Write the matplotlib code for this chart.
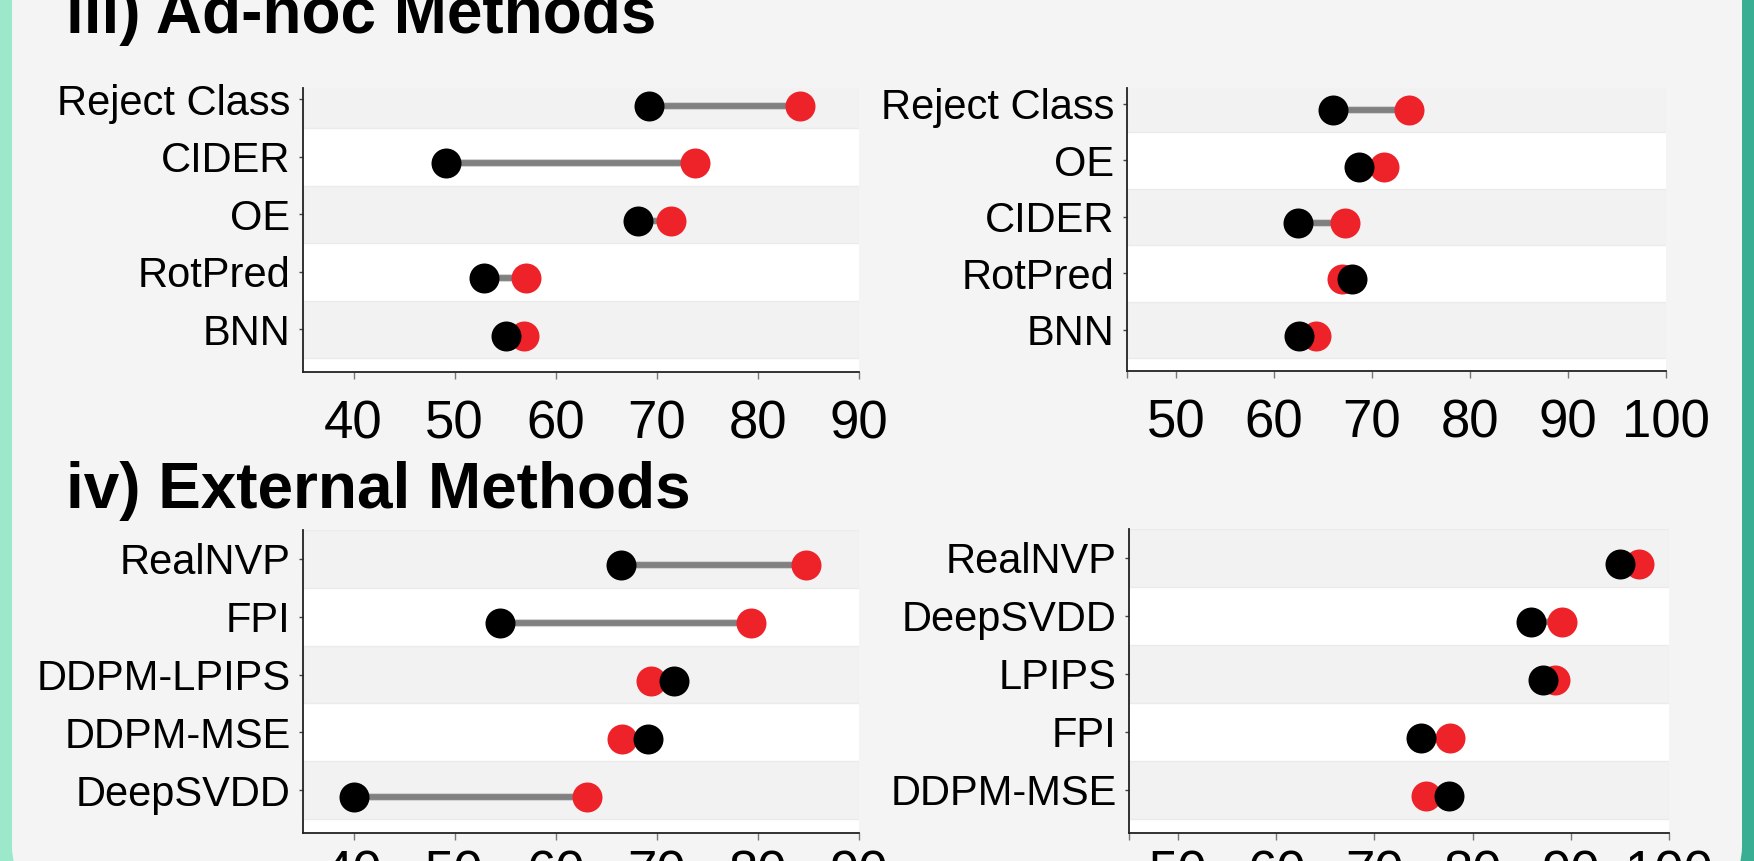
import matplotlib.pyplot as plt
from matplotlib.patches import Rectangle, FancyBboxPatch

plt.rcParams['font.family'] = ['Liberation Sans', 'DejaVu Sans']

# iii) ad-hoc methods, left panel (top to bottom)
adhoc_left_names = ['Reject Class', 'CIDER', 'OE', 'RotPred', 'BNN']
adhoc_left_red = [84.2, 73.8, 71.4, 57.1, 56.9]
adhoc_left_black = [69.2, 49.1, 68.1, 52.9, 55.1]

# iii) ad-hoc methods, right panel
adhoc_right_names = ['Reject Class', 'OE', 'CIDER', 'RotPred', 'BNN']
adhoc_right_red = [73.8, 71.2, 67.2, 66.9, 64.3]
adhoc_right_black = [66.0, 68.7, 62.4, 68.0, 62.6]

# iv) external methods, left panel
ext_left_names = ['RealNVP', 'FPI', 'DDPM-LPIPS', 'DDPM-MSE', 'DeepSVDD']
ext_left_red = [84.8, 79.3, 69.4, 66.6, 63.1]
ext_left_black = [66.5, 54.5, 71.7, 69.1, 40.0]

# iv) external methods, right panel
ext_right_names = ['RealNVP', 'DeepSVDD', 'LPIPS', 'FPI', 'DDPM-MSE']
ext_right_red = [96.9, 89.1, 88.4, 77.7, 75.2]
ext_right_black = [95.0, 85.9, 87.2, 74.7, 77.6]

left_ticks = [40, 50, 60, 70, 80, 90]
right_ticks = [45, 50, 60, 70, 80, 90, 100]
right_ticklabels = ['', '50', '60', '70', '80', '90', '100']

RED = '#ee2229'
BAND = '#f2f2f2'
BG = '#f4f4f4'

W, H = 1754, 861
fig = plt.figure(figsize=(W / 100, H / 100), dpi=100)
fig.patch.set_facecolor(BG)

# coloured frame with rounded grey card on top
fig.patches.append(Rectangle((0, 0), 0.5, 1, transform=fig.transFigure,
                             color='#9ce8cb', zorder=-3))
fig.patches.append(Rectangle((0.5, 0), 0.5, 1, transform=fig.transFigure,
                             color='#3aae93', zorder=-3))
fig.patches.append(FancyBboxPatch((12, -30), 1742 - 12, H + 80,
                                  boxstyle='round,pad=0,rounding_size=45',
                                  transform=None, facecolor=BG,
                                  edgecolor='none', zorder=-2))


def px_axes(x0, x1, y0, y1):
    # pixel box measured from top-left of the figure
    return fig.add_axes([x0 / W, 1 - y1 / H, (x1 - x0) / W, (y1 - y0) / H])


def dumbbell(ax, names, red, black, xlim, ylim, ticks, ticklabels, xpad):
    n = len(names)
    ys = list(range(n - 1, -1, -1))
    ax.set_facecolor('white')
    for i, y in enumerate(ys):
        if i % 2 == 0:
            ax.axhspan(y - 0.5, y + 0.5, facecolor=BAND, edgecolor='#ebebeb',
                       linewidth=1, zorder=0)
    for y, r, b in zip(ys, red, black):
        yd = y - 0.11
        ax.plot([b, r], [yd, yd], color='#cfcfcf', lw=5.6,
                solid_capstyle='butt', zorder=2)
        ax.plot([b, r], [yd, yd], color='#808080', lw=4.2,
                solid_capstyle='butt', zorder=2)
        ax.plot(r, yd, 'o', color=RED, ms=21.6, mew=0, zorder=3)
        ax.plot(b, yd, 'o', color='black', ms=21.6, mew=0, zorder=4)
    ax.set_xlim(*xlim)
    ax.set_ylim(*ylim)
    ax.set_yticks(ys, names)
    ax.set_xticks(ticks, ticklabels)
    ax.tick_params(axis='y', labelsize=30, length=3, width=1,
                   color='#444444', pad=6)
    ax.tick_params(axis='x', labelsize=38, length=5, width=1,
                   color='#777777', pad=xpad)
    for s in ['top', 'right']:
        ax.spines[s].set_visible(False)
    for s in ['left', 'bottom']:
        ax.spines[s].set_linewidth(1.3)
        ax.spines[s].set_color('#222222')


ax1 = px_axes(303, 859, 88, 372)
dumbbell(ax1, adhoc_left_names, adhoc_left_red, adhoc_left_black,
         (35, 90), (-0.74, 4.2), left_ticks, [str(t) for t in left_ticks], 15)

ax2 = px_axes(1127, 1666, 88, 371)
dumbbell(ax2, adhoc_right_names, adhoc_right_red, adhoc_right_black,
         (45, 100), (-0.73, 4.28), right_ticks, right_ticklabels, 15)

ax3 = px_axes(303, 859, 530, 833)
dumbbell(ax3, ext_left_names, ext_left_red, ext_left_black,
         (35, 90), (-0.74, 4.5), left_ticks, [str(t) for t in left_ticks], 7)

ax4 = px_axes(1129, 1669, 529, 833)
dumbbell(ax4, ext_right_names, ext_right_red, ext_right_black,
         (45, 100), (-0.75, 4.5), right_ticks, right_ticklabels, 7)

fig.text(66 / W, 1 - 33 / H, 'iii) Ad-hoc Methods', fontsize=46,
         fontweight='bold', va='baseline', ha='left')
fig.text(66 / W, 1 - 508 / H, 'iv) External Methods', fontsize=46,
         fontweight='bold', va='baseline', ha='left')

fig.savefig('out.png', dpi=100, facecolor=fig.get_facecolor())
